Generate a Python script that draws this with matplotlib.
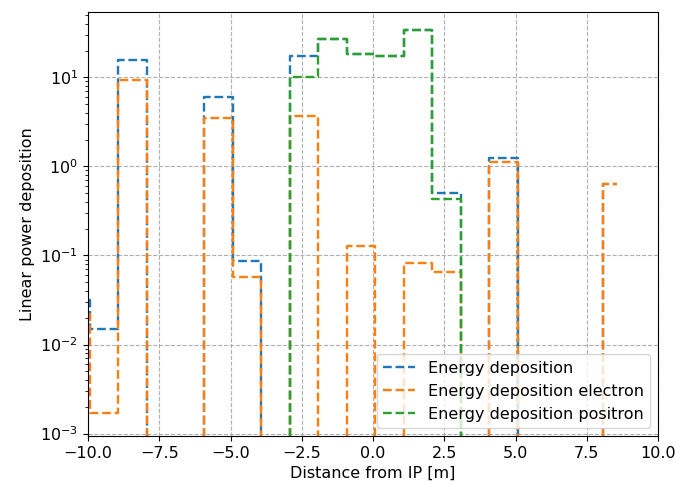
# energy deposition along the beam line
import matplotlib
matplotlib.use('Agg')
import matplotlib.pyplot as plt
matplotlib.rcParams['font.size'] = 11.5

# bin centres [m]
x = [-10.43, -9.43, -8.43, -7.43, -6.43, -5.43, -4.43, -3.43, -2.43, -1.43,
     -0.43, 0.57, 1.57, 2.57, 3.57, 4.57, 5.57, 6.57, 7.57, 8.57]

e_total = [0.032, 0.0149, 15.6, 0, 0, 6.0, 0.087, 0, 17.4, 26.7,
           18.5, 17.4, 33.8, 0.50, 0, 1.23, 0, 0, 0, 0.64]
e_electron = [0.022, 0.0017, 9.3, 0, 0, 3.5, 0.058, 0, 3.7, 0,
              0.128, 0, 0.083, 0.065, 0, 1.12, 0, 0, 0, 0.63]
e_positron = [0, 0, 0, 0, 0, 0, 0, 0, 10.0, 26.7,
              18.5, 17.4, 33.8, 0.43, 0, 0, 0, 0, 0, 0]

fig = plt.figure(figsize=(6.82, 4.86), dpi=100)
ax = fig.add_axes([0.129, 0.103, 0.836, 0.872])

ax.step(x, e_total, '--', where='mid', lw=1.7, label='Energy deposition')
ax.step(x, e_electron, '--', where='mid', lw=1.7, label='Energy deposition electron')
ax.step(x, e_positron, '--', where='mid', lw=1.7, label='Energy deposition positron')

ax.set_yscale('log')
ax.set_xlim(-10, 10)
ax.set_ylim(9.4e-4, 54)
ax.grid(True, linestyle='--', color='#b0b0b0')
ax.set_xlabel('Distance from IP [m]')
ax.set_ylabel('Linear power deposition')
ax.legend(loc='lower right')

fig.savefig('out.png', dpi=100)
